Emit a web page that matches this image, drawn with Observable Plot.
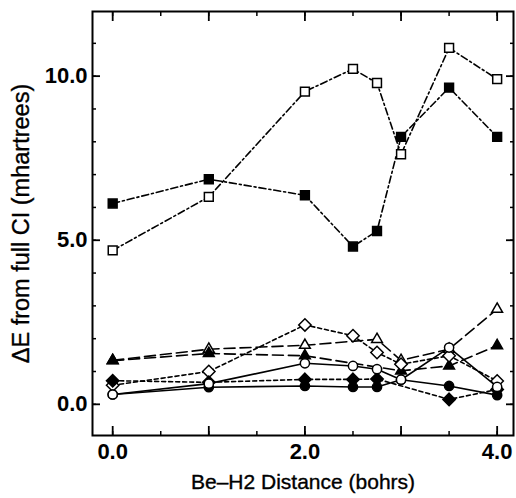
<!DOCTYPE html>
<html><head><meta charset="utf-8">
<script src="https://cdn.jsdelivr.net/npm/d3@7"></script>
<script src="https://cdn.jsdelivr.net/npm/@observablehq/plot@0.6"></script>
<style>
body{margin:0;background:#fff;}
#chart svg{font-family:"Liberation Sans",Arial,Helvetica,sans-serif;}
#chart g[aria-label="x-axis label"], #chart g[aria-label="y-axis label"]{font-weight:normal;stroke:black;stroke-width:0.35px;}
#chart g[aria-label="x-axis label"]{font-size:21px;}
#chart g[aria-label="y-axis label"]{font-size:23.5px;}
</style>
</head><body><div id="chart"></div>
<script>
// Be–H2 distance (bohrs) and energy error from full CI (mhartrees)
const distances = [0, 1, 2, 2.5, 2.75, 3, 3.5, 4];
const filledSquareE = [6.12, 6.86, 6.37, 4.81, 5.28, 8.15, 9.65, 8.15];
const openSquareE = [4.69, 6.32, 9.53, 10.22, 9.79, 7.62, 10.86, 9.91];
const openTriangleX = [0, 1, 2, 2.75, 3, 3.5, 4];
const openTriangleE = [1.34, 1.68, 1.80, 1.98, 1.34, 1.68, 2.90];
const filledTriangleX = [0, 1, 2, 3, 3.5, 4];
const filledTriangleE = [1.33, 1.55, 1.48, 1.02, 1.17, 1.79];
const openDiamondE = [0.58, 1.00, 2.42, 2.09, 1.58, 1.22, 1.48, 0.71];
const filledDiamondX = [0, 1, 2, 2.5, 2.75, 3.5, 4];
const filledDiamondE = [0.72, 0.67, 0.76, 0.76, 0.77, 0.15, 0.45];
const openCircleE = [0.30, 0.63, 1.25, 1.17, 1.07, 0.75, 1.73, 0.53];
const filledCircleE = [0.30, 0.52, 0.56, 0.53, 0.53, 0.75, 0.56, 0.28];

const yTickLabels = [0, 5, 10];
const xTickLabels = [0, 2, 4];

const series = [
  {name: "filledSquare", x: distances, y: filledSquareE, symbol: "square", r: 5, filled: true, dash: "7,3,2,3"},
  {name: "openSquare", x: distances, y: openSquareE, symbol: "square", r: 5, filled: false, dash: "7,3,2,3"},
  {name: "openTriangle", x: openTriangleX, y: openTriangleE, symbol: "triangle", r: 4, filled: false, dash: "11,5"},
  {name: "filledTriangle", x: filledTriangleX, y: filledTriangleE, symbol: "triangle", r: 4, filled: true, dash: "11,5"},
  {name: "openDiamond", x: distances, y: openDiamondE, symbol: "diamond2", r: 5.6, filled: false, dash: "4,3"},
  {name: "filledDiamond", x: filledDiamondX, y: filledDiamondE, symbol: "diamond2", r: 5.6, filled: true, dash: "4,3"},
  {name: "filledCircle", x: distances, y: filledCircleE, symbol: "circle", r: 4.6, filled: true, dash: null},
  {name: "openCircle", x: distances, y: openCircleE, symbol: "circle", r: 4.6, filled: false, dash: null}
];
const rowsOf = s => s.x.map((x, i) => ({series: s.name, x, y: s.y[i]}));

const fmt = d3.format(".1f");
const plot = Plot.plot({
  width: 516,
  height: 498,
  marginLeft: 92,
  marginRight: 3,
  marginTop: 11,
  marginBottom: 63,
  x: {domain: [-0.21, 4.17]},
  y: {domain: [-0.95, 11.97]},
  marks: [
    Plot.axisY({anchor: "left", ticks: yTickLabels, tickFormat: fmt, tickSize: 0, tickPadding: 5,
      fontSize: 22, fontWeight: "bold",
      label: "ΔE from full CI (mhartrees)", labelAnchor: "center", labelOffset: 80, labelArrow: "none"}),
    Plot.axisX({anchor: "bottom", ticks: xTickLabels, tickFormat: fmt, tickSize: 0, tickPadding: 8,
      fontSize: 22, fontWeight: "bold",
      label: "Be–H2 Distance (bohrs)", labelAnchor: "center", labelOffset: 53, labelArrow: "none"}),
    ...["left", "right"].flatMap(a => [
      Plot.axisY({anchor: a, ticks: d3.range(0, 12, 1), tickSize: -4, fill: "none", label: null, strokeWidth: 1.5}),
      Plot.axisY({anchor: a, ticks: yTickLabels, tickSize: -8, fill: "none", label: null, strokeWidth: 1.8})
    ]),
    ...["bottom", "top"].flatMap(a => [
      Plot.axisX({anchor: a, ticks: d3.range(0, 4.01, 0.5), tickSize: -4, fill: "none", label: null, strokeWidth: 1.5}),
      Plot.axisX({anchor: a, ticks: [0, 1, 2, 3, 4], tickSize: -9, fill: "none", label: null, strokeWidth: 1.8})
    ]),
    Plot.frame({strokeWidth: 2}),
    ...series.map(s => Plot.line(rowsOf(s), {x: "x", y: "y", stroke: "black", strokeWidth: 1.6, strokeDasharray: s.dash})),
    ...series.map(s => Plot.dot(rowsOf(s), {x: "x", y: "y", symbol: () => s.symbol, r: s.r,
      fill: s.filled ? "black" : "white", stroke: "black", strokeWidth: 1.5}))
  ]
});
document.getElementById("chart").appendChild(plot);
</script>
</body></html>
